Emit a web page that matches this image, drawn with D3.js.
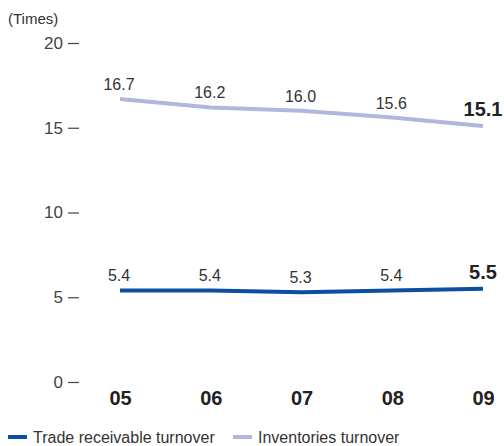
<!DOCTYPE html>
<html>
<head>
<meta charset="utf-8">
<script src="https://cdn.jsdelivr.net/npm/d3@7"></script>
<style>
  html, body { margin: 0; padding: 0; background: #fff; }
  svg { display: block; font-family: "Liberation Sans", Arial, sans-serif; }
</style>
</head>
<body>
<svg id="chart" width="504" height="446"></svg>
<script>
// Turnover ratios by fiscal year
const years = ["05", "06", "07", "08", "09"];
const tradeReceivable = [5.4, 5.4, 5.3, 5.4, 5.5];
const inventories = [16.7, 16.2, 16.0, 15.6, 15.1];
const yTicks = [0, 5, 10, 15, 20];
const unitLabel = "(Times)";

const seriesList = [
  { name: "Trade receivable turnover", values: tradeReceivable, color: "#0b4ea2" },
  { name: "Inventories turnover", values: inventories, color: "#b1b6dd" }
];

const svg = d3.select("#chart");

const x = d3.scalePoint().domain(years).range([120, 483]);
const y = d3.scaleLinear().domain([0, 20]).range([382, 43]);

// Y axis: numbers with short dash marks, no domain line
const yAxis = svg.append("g").attr("transform", "translate(79,0)")
  .call(d3.axisLeft(y).tickValues(yTicks).tickSize(11).tickPadding(5));
yAxis.select(".domain").remove();
yAxis.selectAll(".tick line").attr("stroke", "#444").attr("stroke-width", 1.2);
yAxis.selectAll(".tick text")
  .attr("fill", "#444")
  .style("font-size", "17px")
  .style("font-family", "'Liberation Sans', Arial, sans-serif");

svg.append("text")
  .attr("x", 8).attr("y", 24)
  .attr("fill", "#333")
  .style("font-size", "15px")
  .text(unitLabel);

// X axis labels
const xAxis = svg.append("g").attr("transform", "translate(0,382)")
  .call(d3.axisBottom(x).tickSize(0).tickPadding(9));
xAxis.select(".domain").remove();
xAxis.selectAll(".tick text")
  .attr("fill", "#222")
  .style("font-size", "20px")
  .style("font-weight", "bold")
  .style("font-family", "'Liberation Sans', Arial, sans-serif");

// Lines
const line = d3.line()
  .x((d, i) => x(years[i]))
  .y(d => y(d));

seriesList.forEach(s => {
  svg.append("path")
    .datum(s.values)
    .attr("fill", "none")
    .attr("stroke", s.color)
    .attr("stroke-width", 4)
    .attr("d", line);

  // Value labels above each point; latest year emphasised
  const last = s.values.length - 1;
  svg.append("g").selectAll("text")
    .data(s.values)
    .join("text")
    .attr("x", (d, i) => x(years[i]) + (i === last ? 0 : -1))
    .attr("y", (d, i) => y(d) - (i === last ? 10 : 9))
    .attr("text-anchor", "middle")
    .attr("fill", (d, i) => i === last ? "#222" : "#333")
    .style("font-size", (d, i) => i === last ? "20px" : "16px")
    .style("font-weight", (d, i) => i === last ? "bold" : "normal")
    .text(d => d.toFixed(1));
});

// Legend
const legendX = [8, 233];
const legend = svg.append("g");
seriesList.forEach((s, i) => {
  legend.append("rect")
    .attr("x", legendX[i]).attr("y", 435)
    .attr("width", 19).attr("height", 4)
    .attr("fill", s.color);
  legend.append("text")
    .attr("x", legendX[i] + 25).attr("y", 443)
    .attr("fill", "#333")
    .style("font-size", "16px")
    .text(s.name);
});
</script>
</body>
</html>
